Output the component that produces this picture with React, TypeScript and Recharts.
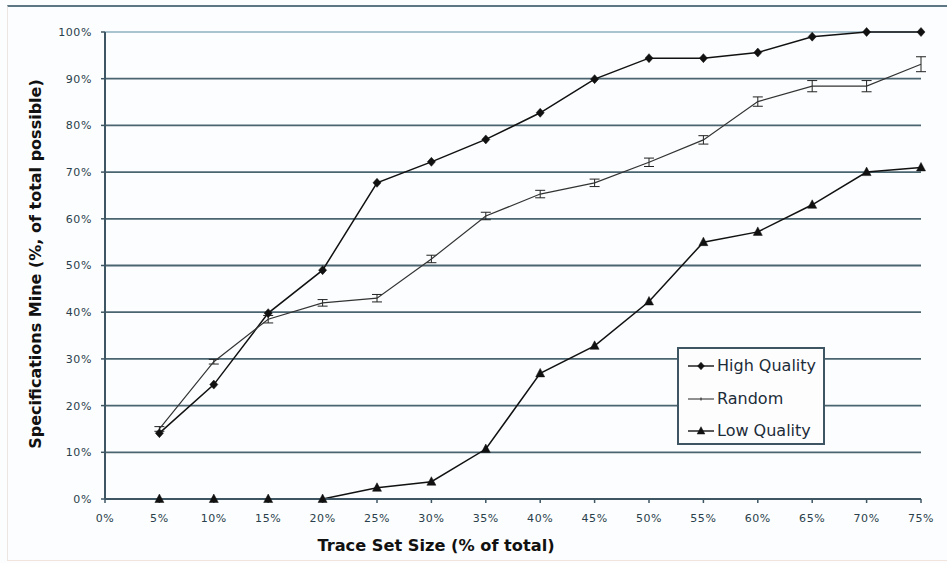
import React from 'react';
import { LineChart, Line, XAxis, YAxis, CartesianGrid, ErrorBar, Legend, ReferenceLine, Label } from 'recharts';

const traceSizes = [5, 10, 15, 20, 25, 30, 35, 40, 45, 50, 55, 60, 65, 70, 75];
const highQuality = [14.1, 24.5, 39.8, 49.0, 67.7, 72.2, 77.0, 82.7, 89.9, 94.4, 94.4, 95.6, 99.0, 100, 100];
const random = [15.0, 29.4, 38.5, 42.0, 43.0, 51.4, 60.6, 65.3, 67.7, 72.1, 76.9, 85.1, 88.4, 88.4, 93.1];
const randomErr = [0.5, 0.5, 0.8, 0.7, 0.8, 0.8, 0.8, 0.8, 0.8, 0.9, 0.9, 1.0, 1.2, 1.2, 1.6];
const lowQuality = [0, 0, 0, 0, 2.4, 3.7, 10.7, 26.9, 32.8, 42.3, 55.0, 57.2, 63.0, 70.0, 71.0];
const xTicks = [0, 5, 10, 15, 20, 25, 30, 35, 40, 45, 50, 55, 60, 65, 70, 75];
const yTicks = [0, 10, 20, 30, 40, 50, 60, 70, 80, 90, 100];
const seriesOrder = ['hq', 'rnd', 'lq'];
const seriesNames: Record<string, string> = { hq: 'High Quality', rnd: 'Random', lq: 'Low Quality' };

const data = traceSizes.map((x, i) => ({
  x,
  hq: highQuality[i],
  rnd: random[i],
  rndErr: randomErr[i],
  lq: lowQuality[i],
}));

const FONT = '"DejaVu Sans", Verdana, sans-serif';
const AXIS = '#3e5664';
const TEXT = '#2a3f4c';

const Diamond = (props: any) => {
  const { cx, cy } = props;
  const s = props.markSize ?? 4.5;
  if (cx == null || cy == null) return null;
  return <polygon points={`${cx},${cy - s} ${cx + s * 0.9},${cy} ${cx},${cy + s} ${cx - s * 0.9},${cy}`} fill="#111" stroke="#111" strokeWidth={0.5} />;
};

const Triangle = (props: any) => {
  const { cx, cy } = props;
  const s = props.markSize ?? 5;
  if (cx == null || cy == null) return null;
  return <polygon points={`${cx},${cy - s} ${cx + s * 0.9},${cy + s * 0.7} ${cx - s * 0.9},${cy + s * 0.7}`} fill="#111" stroke="#111" strokeWidth={0.5} />;
};

const LegendBox = (props: any) => {
  const payload = [...(props.payload || [])].sort(
    (a: any, b: any) => seriesOrder.indexOf(a.dataKey) - seriesOrder.indexOf(b.dataKey)
  );
  return (
    <div style={{ border: `2px solid ${AXIS}`, background: '#fdfdfe', width: 148, height: 98, boxSizing: 'border-box', paddingTop: 1 }}>
      {payload.map((p: any) => (
        <div key={p.dataKey} style={{ display: 'flex', alignItems: 'center', height: 32.5, marginLeft: 8 }}>
          <svg width={28} height={14} style={{ display: 'block' }}>
            <line x1={1} y1={7} x2={27} y2={7} stroke="#222" strokeWidth={p.dataKey === 'rnd' ? 1 : 1.5} />
            {p.dataKey === 'hq' && <Diamond cx={14} cy={7} markSize={3.8} />}
            {p.dataKey === 'lq' && <Triangle cx={14} cy={7} markSize={4.3} />}
            {p.dataKey === 'rnd' && <line x1={14} y1={5.5} x2={14} y2={8.5} stroke="#222" strokeWidth={1} />}
          </svg>
          <span style={{ fontFamily: FONT, fontSize: 16, color: '#1c2c38', marginLeft: 2, lineHeight: '16px' }}>{p.value}</span>
        </div>
      ))}
    </div>
  );
};

export default function App() {
  return (
    <div style={{ position: 'absolute', left: 0, top: 0, width: 947, height: 563, background: '#fcfdfe' }}>
      <div style={{ position: 'absolute', left: 7, top: 5, width: 940, height: 556, borderTop: `2px solid #5d7884`, borderLeft: '1px solid #ece6e2', borderBottom: '1px solid #f0e4dc', boxSizing: 'border-box' }} />
      <div style={{ position: 'absolute', left: 0, top: 0 }}>
        <LineChart width={947} height={563} data={data} margin={{ top: 32, right: 26, bottom: 34, left: 45 }}>
          <CartesianGrid vertical={false} stroke="#4a6470" strokeWidth={1.8} />
          <ReferenceLine y={100} stroke="#a9c3cf" strokeWidth={2} />
          <XAxis
            dataKey="x"
            type="number"
            domain={[0, 75]}
            ticks={xTicks}
            tickFormatter={(v: number) => `${v}%`}
            height={30}
            tickSize={4}
            tickMargin={11}
            axisLine={{ stroke: AXIS, strokeWidth: 2 }}
            tickLine={{ stroke: AXIS, strokeWidth: 1.5 }}
            tick={{ fontFamily: FONT, fontSize: 11, fill: TEXT, letterSpacing: 0.6 }}
            interval={0}
          >
            <Label
              content={() => (
                <text x={436} y={551} textAnchor="middle" fontFamily={FONT} fontSize={16.2} fontWeight="bold" fill="#111">
                  Trace Set Size (% of total)
                </text>
              )}
            />
          </XAxis>
          <YAxis
            type="number"
            domain={[0, 100]}
            ticks={yTicks}
            tickFormatter={(v: number) => `${v}%`}
            width={60}
            tickSize={4}
            tickMargin={9}
            axisLine={{ stroke: AXIS, strokeWidth: 2 }}
            tickLine={{ stroke: AXIS, strokeWidth: 1.5 }}
            tick={{ fontFamily: FONT, fontSize: 11, fill: TEXT, letterSpacing: 0.6 }}
            interval={0}
          >
            <Label
              content={() => (
                <text x={41} y={264} textAnchor="middle" fontFamily={FONT} fontSize={16} fontWeight="bold" fill="#111" transform="rotate(-90 41 264)">
                  Specifications Mine (%, of total possible)
                </text>
              )}
            />
          </YAxis>
          <Legend
            layout="horizontal"
            verticalAlign="middle"
            align="center"
            wrapperStyle={{ left: 677, top: 347, width: 148, height: 99 }}
            content={<LegendBox />}
          />
          <Line type="linear" dataKey="hq" name={seriesNames.hq} stroke="#111" strokeWidth={1.5} dot={(p: any) => <Diamond key={`hq-${p.index}`} cx={p.cx} cy={p.cy} markSize={4.5} />} activeDot={false} isAnimationActive={false} />
          <Line type="linear" dataKey="rnd" name={seriesNames.rnd} stroke="#333" strokeWidth={1.2} dot={false} activeDot={false} isAnimationActive={false}>
            <ErrorBar dataKey="rndErr" width={5} stroke="#222" strokeWidth={1} direction="y" />
          </Line>
          <Line type="linear" dataKey="lq" name={seriesNames.lq} stroke="#111" strokeWidth={1.5} dot={(p: any) => <Triangle key={`lq-${p.index}`} cx={p.cx} cy={p.cy} markSize={5} />} activeDot={false} isAnimationActive={false} />
        </LineChart>
      </div>
    </div>
  );
}
